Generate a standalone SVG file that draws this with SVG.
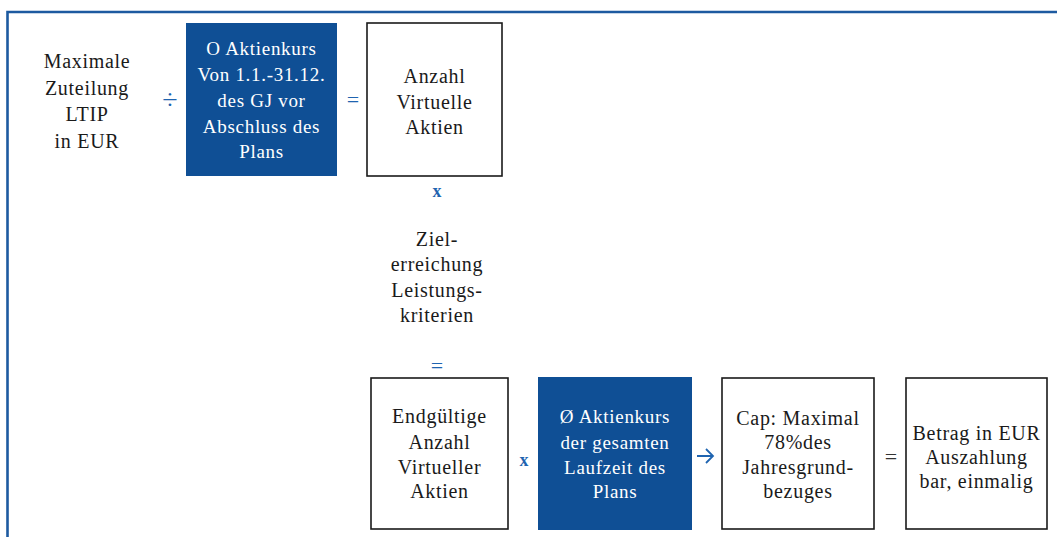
<svg xmlns="http://www.w3.org/2000/svg" width="1057" height="537" viewBox="0 0 1057 537">
<style>
text{font-family:'Liberation Serif','Times New Roman',Times,'DejaVu Serif',serif}
.t{font-size:20px;fill:#1a1a1a;text-anchor:middle;letter-spacing:0.7px}
.w{font-size:19px;fill:#ffffff;text-anchor:middle;letter-spacing:0.7px}
.op{fill:#1f64b0;text-anchor:middle}
.ob{fill:#333;text-anchor:middle}
.box{fill:#fff;stroke:#1a1a1a;stroke-width:1.6}
.blue{fill:#0f4f95}
</style>
<rect width="1057" height="537" fill="#fff"/>
<path d="M7.5 537 V12 H1057" fill="none" stroke="#1d5aa0" stroke-width="2.6"/>

<g id="max">
<text class="t" x="87" y="68">Maximale</text>
<text class="t" x="87" y="95">Zuteilung</text>
<text class="t" x="87" y="121">LTIP</text>
<text class="t" x="87" y="148">in EUR</text>
</g>
<g id="kurs1">
<rect class="blue" x="186" y="23" width="151" height="153"/>
<text class="w" x="261.5" y="55">O Aktienkurs</text>
<text class="w" x="261.5" y="81">Von 1.1.-31.12.</text>
<text class="w" x="261.5" y="107">des GJ vor</text>
<text class="w" x="261.5" y="133">Abschluss des</text>
<text class="w" x="261.5" y="158">Plans</text>
</g>
<g id="anzahl">
<rect class="box" x="367" y="23" width="135" height="153"/>
<text class="t" x="434.5" y="83">Anzahl</text>
<text class="t" x="434.5" y="109">Virtuelle</text>
<text class="t" x="434.5" y="134">Aktien</text>
</g>
<g id="ziel">
<text class="t" x="437" y="246">Ziel-</text>
<text class="t" x="437" y="271">erreichung</text>
<text class="t" x="437" y="297">Leistungs-</text>
<text class="t" x="437" y="322">kriterien</text>
</g>
<g id="endg">
<rect class="box" x="371" y="378" width="137" height="151"/>
<text class="t" x="439.5" y="423">Endgültige</text>
<text class="t" x="439.5" y="449">Anzahl</text>
<text class="t" x="439.5" y="474">Virtueller</text>
<text class="t" x="439.5" y="498">Aktien</text>
</g>
<g id="kurs2">
<rect class="blue" x="538" y="377" width="154" height="153"/>
<text class="w" x="615" y="423">Ø Aktienkurs</text>
<text class="w" x="615" y="449">der gesamten</text>
<text class="w" x="615" y="474">Laufzeit des</text>
<text class="w" x="615" y="498">Plans</text>
</g>
<g id="cap">
<rect class="box" x="722" y="378" width="152" height="151"/>
<text class="t" x="798" y="425">Cap: Maximal</text>
<text class="t" x="798" y="449">78%des</text>
<text class="t" x="798" y="474">Jahresgrund-</text>
<text class="t" x="798" y="498">bezuges</text>
</g>
<g id="betrag">
<rect class="box" x="906" y="378" width="141" height="151"/>
<text class="t" x="976.5" y="440">Betrag in EUR</text>
<text class="t" x="976.5" y="464">Auszahlung</text>
<text class="t" x="976.5" y="488">bar, einmalig</text>
</g>
<g id="connectors">
<text class="op" x="170" y="109" style="font-size:28px">÷</text>
<text class="op" x="353" y="107" style="font-size:22px">=</text>
<text class="op" x="437" y="197" style="font-size:18px;font-weight:bold">x</text>
<text class="op" x="437" y="373" style="font-size:22px">=</text>
<text class="op" x="524" y="466" style="font-size:18px;font-weight:bold">x</text>
<path d="M697 456 H713 M706 449 L713 456 L706 463" fill="none" stroke="#1f64b0" stroke-width="1.8"/>
<text class="ob" x="891" y="464" style="font-size:22px">=</text>
</g>
</svg>
